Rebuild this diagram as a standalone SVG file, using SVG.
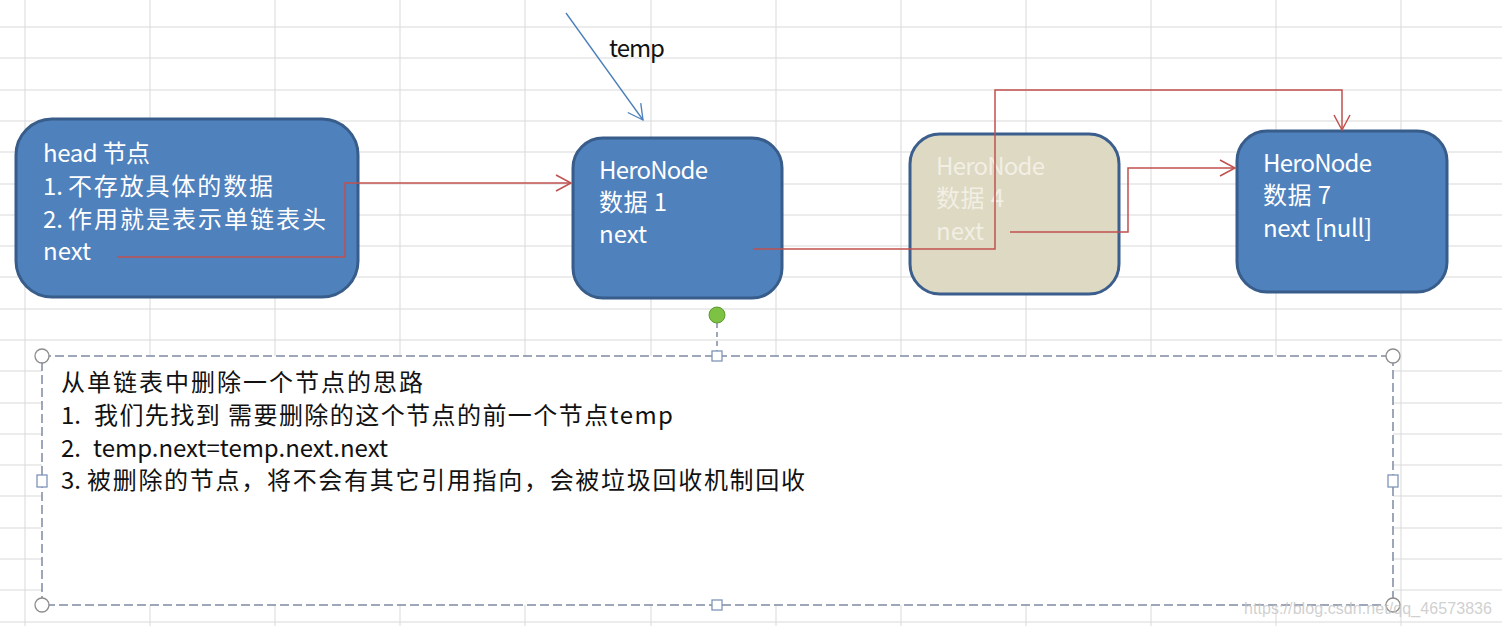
<svg xmlns="http://www.w3.org/2000/svg" width="1502" height="626" viewBox="0 0 1502 626">
<style>
.grid line{stroke:#d9d9d9;stroke-width:1}
.node{fill:#4f81bd;stroke:#385d8a;stroke-width:3}
.gone{fill:#ddd9c3;stroke:#3b5e8c;stroke-width:3}
.t{font-family:"Noto Sans CJK SC","Noto Sans",sans-serif;font-size:24px}
.w{fill:#ffffff}
.p{fill:#f2efe4}
.k{fill:#111111}
.red{fill:none;stroke:#c0504d;stroke-width:1.5}
.blue{fill:none;stroke:#4a7ebb;stroke-width:1.3}
.h{fill:#ffffff;stroke:#8c8c8c;stroke-width:1.3}
.sq{fill:#ffffff;stroke:#7f95b8;stroke-width:1.3}
</style>
<defs>
<marker id="ar" markerUnits="userSpaceOnUse" markerWidth="18" markerHeight="20" viewBox="0 0 18 20" refX="16" refY="10" orient="auto">
<path d="M1,2 L16,10 L1,18" fill="none" stroke="#c0504d" stroke-width="1.5"/>
</marker>
<marker id="ab" markerUnits="userSpaceOnUse" markerWidth="18" markerHeight="20" viewBox="0 0 18 20" refX="16" refY="10" orient="auto">
<path d="M1,2 L16,10 L1,18" fill="none" stroke="#4a7ebb" stroke-width="1.3"/>
</marker>
</defs>
<rect width="1502" height="626" fill="#ffffff"/>
<g class="grid">
<line x1="25" y1="0" x2="25" y2="626"/><line x1="150" y1="0" x2="150" y2="626"/><line x1="275" y1="0" x2="275" y2="626"/><line x1="400" y1="0" x2="400" y2="626"/><line x1="525" y1="0" x2="525" y2="626"/><line x1="651" y1="0" x2="651" y2="626"/><line x1="776" y1="0" x2="776" y2="626"/><line x1="901" y1="0" x2="901" y2="626"/><line x1="1026" y1="0" x2="1026" y2="626"/><line x1="1151" y1="0" x2="1151" y2="626"/><line x1="1276" y1="0" x2="1276" y2="626"/><line x1="1401" y1="0" x2="1401" y2="626"/>
<line x1="0" y1="27" x2="1502" y2="27"/><line x1="0" y1="58" x2="1502" y2="58"/><line x1="0" y1="90" x2="1502" y2="90"/><line x1="0" y1="121" x2="1502" y2="121"/><line x1="0" y1="152" x2="1502" y2="152"/><line x1="0" y1="184" x2="1502" y2="184"/><line x1="0" y1="215" x2="1502" y2="215"/><line x1="0" y1="246" x2="1502" y2="246"/><line x1="0" y1="277" x2="1502" y2="277"/><line x1="0" y1="309" x2="1502" y2="309"/><line x1="0" y1="340" x2="1502" y2="340"/><line x1="0" y1="371" x2="1502" y2="371"/><line x1="0" y1="403" x2="1502" y2="403"/><line x1="0" y1="434" x2="1502" y2="434"/><line x1="0" y1="465" x2="1502" y2="465"/><line x1="0" y1="496" x2="1502" y2="496"/><line x1="0" y1="528" x2="1502" y2="528"/><line x1="0" y1="559" x2="1502" y2="559"/><line x1="0" y1="590" x2="1502" y2="590"/><line x1="0" y1="622" x2="1502" y2="622"/>
</g>
<g id="head">
<rect class="node" x="16" y="119" width="342" height="178" rx="36"/>
<text class="t w" x="43" y="162" textLength="107">head 节点</text>
<text class="t w" x="43" y="195">1.</text>
<text class="t w" x="68" y="195" textLength="205">不存放具体的数据</text>
<text class="t w" x="43" y="228">2.</text>
<text class="t w" x="68" y="228" textLength="258">作用就是表示单链表头</text>
<text class="t w" x="43" y="260">next</text>
</g>
<g id="node1">
<rect class="node" x="573" y="138" width="209" height="160" rx="30"/>
<text class="t w" x="599" y="179" textLength="109">HeroNode</text>
<text class="t w" x="599" y="211" textLength="68">数据 1</text>
<text class="t w" x="599" y="243">next</text>
</g>
<g id="node4">
<rect class="gone" x="910" y="134" width="209" height="160" rx="30"/>
<text class="t p" x="936" y="175" textLength="109">HeroNode</text>
<text class="t p" x="936" y="207" textLength="68">数据 4</text>
<text class="t p" x="936" y="240">next</text>
</g>
<g id="node7">
<rect class="node" x="1237" y="131" width="210" height="161" rx="30"/>
<text class="t w" x="1263" y="172" textLength="109">HeroNode</text>
<text class="t w" x="1263" y="204" textLength="68">数据 7</text>
<text class="t w" x="1263" y="237" textLength="109">next [null]</text>
</g>
<g id="connectors">
<path class="red" d="M117,257 H345 V183 H571" marker-end="url(#ar)"/>
<path class="red" d="M753,249 H995 V90 H1342 V130" marker-end="url(#ar)"/>
<path class="red" d="M1010,232 H1128 V168 H1235" marker-end="url(#ar)"/>
<path class="blue" d="M566,13 L643,120" marker-end="url(#ab)"/>
</g>
<g id="temp-label">
<text class="t k" x="609" y="57" font-size="22" textLength="56">temp</text>
</g>
<g id="textbox">
<rect x="42" y="356" width="1351" height="249" fill="#ffffff" stroke="#7d8ba3" stroke-width="1.5" stroke-dasharray="9,4"/>
<line x1="717" y1="323" x2="717" y2="351" stroke="#7d8ba3" stroke-width="1.5" stroke-dasharray="5,4"/>
<circle cx="717" cy="315" r="8" fill="#7dc243" stroke="#5b9a2c" stroke-width="1"/>
<circle class="h" cx="42" cy="356" r="7"/><circle class="h" cx="1393" cy="356" r="7"/><circle class="h" cx="42" cy="605" r="7"/><circle class="h" cx="1393" cy="605" r="7"/>
<rect class="sq" x="712" y="351" width="10" height="10"/><rect class="sq" x="712" y="600" width="10" height="10"/><rect class="sq" x="37" y="475" width="10" height="12"/><rect class="sq" x="1388" y="475" width="10" height="12"/>
<text class="t k" x="61" y="391" textLength="362">从单链表中删除一个节点的思路</text>
<text class="t k" x="61" y="424">1.</text>
<text class="t k" x="94" y="424" textLength="579">我们先找到 需要删除的这个节点的前一个节点temp</text>
<text class="t k" x="61" y="457">2.</text>
<text class="t k" x="93" y="457" textLength="295">temp.next=temp.next.next</text>
<text class="t k" x="61" y="489">3.</text>
<text class="t k" x="87" y="489" textLength="718">被删除的节点，将不会有其它引用指向，会被垃圾回收机制回收</text>
</g>
<text x="1244" y="614" font-family="Liberation Sans Narrow,Liberation Sans,sans-serif" font-size="16" fill="#c4c4c4" fill-opacity="0.8" textLength="248">https://blog.csdn.net/qq_46573836</text>
</svg>
